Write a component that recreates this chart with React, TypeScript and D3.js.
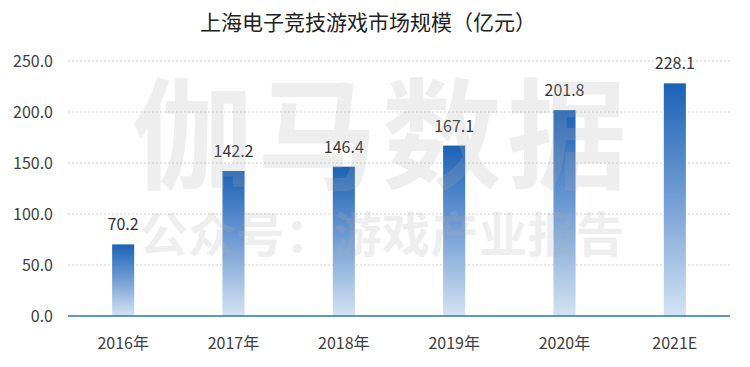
import React from "react";
import * as d3 from "d3";

// chart data
const years = ["2016年", "2017年", "2018年", "2019年", "2020年", "2021E"];
const marketSize = [70.2, 142.2, 146.4, 167.1, 201.8, 228.1];
const yTicks = [0, 50, 100, 150, 200, 250];

const title = "上海电子竞技游戏市场规模（亿元）";
const watermarkMain = "伽马数据";
const watermarkSub = "公众号：游戏产业报告";

const W = 750;
const H = 367;
const font = "'Noto Sans CJK SC', 'Noto Sans', sans-serif";

export default function App() {
  const x = d3
    .scaleBand()
    .domain(years)
    .range([68, 730])
    .paddingInner(0.8)
    .paddingOuter(0.4);
  const y = d3.scaleLinear().domain([0, 250]).range([316, 61]);

  return (
    <svg
      width={W}
      height={H}
      style={{ position: "absolute", left: 0, top: 0, background: "#fff" }}
      fontFamily={font}
    >
      <defs>
        <linearGradient id="barFill" x1="0" y1="0" x2="0" y2="1">
          <stop offset="0%" stopColor="#1b62b5" />
          <stop offset="45%" stopColor="#6b98d2" />
          <stop offset="100%" stopColor="#d3e3f2" />
        </linearGradient>
      </defs>

      <text x={368} y={30} textAnchor="middle" fontSize={21} fill="#222">
        {title}
      </text>

      {/* grid + y ticks */}
      {yTicks.map((t) => (
        <g key={t}>
          {t > 0 && (
            <line
              x1={68}
              x2={730}
              y1={y(t)}
              y2={y(t)}
              stroke="#cfcfcf"
              strokeDasharray="2,2"
            />
          )}
          <text
            x={53}
            y={y(t)}
            dy="0.35em"
            textAnchor="end"
            fontSize={16}
            fill="#404040"
          >
            {t.toFixed(1)}
          </text>
        </g>
      ))}

      {/* bars */}
      {years.map((yr, i) => (
        <g key={yr}>
          <rect
            x={x(yr)}
            y={y(marketSize[i])}
            width={x.bandwidth()}
            height={y(0) - y(marketSize[i])}
            fill="url(#barFill)"
          />
          <text
            x={(x(yr) as number) + x.bandwidth() / 2}
            y={y(marketSize[i]) - 14}
            textAnchor="middle"
            fontSize={16}
            fill="#333"
          >
            {marketSize[i].toFixed(1)}
          </text>
          <text
            x={(x(yr) as number) + x.bandwidth() / 2}
            y={349}
            textAnchor="middle"
            fontSize={16}
            fill="#404040"
          >
            {yr}
          </text>
        </g>
      ))}

      <line x1={68} x2={730} y1={y(0)} y2={y(0)} stroke="#2e75b6" strokeWidth={1.5} />

      {/* watermark */}
      <g fill="#b0b0b0" opacity={0.2} fontWeight="bold">
        <text x={382} y={180} textAnchor="middle" fontSize={120} letterSpacing={5}>
          {watermarkMain}
        </text>
        <text x={382} y={252} textAnchor="middle" fontSize={48} letterSpacing={0.5}>
          {watermarkSub}
        </text>
      </g>
    </svg>
  );
}
